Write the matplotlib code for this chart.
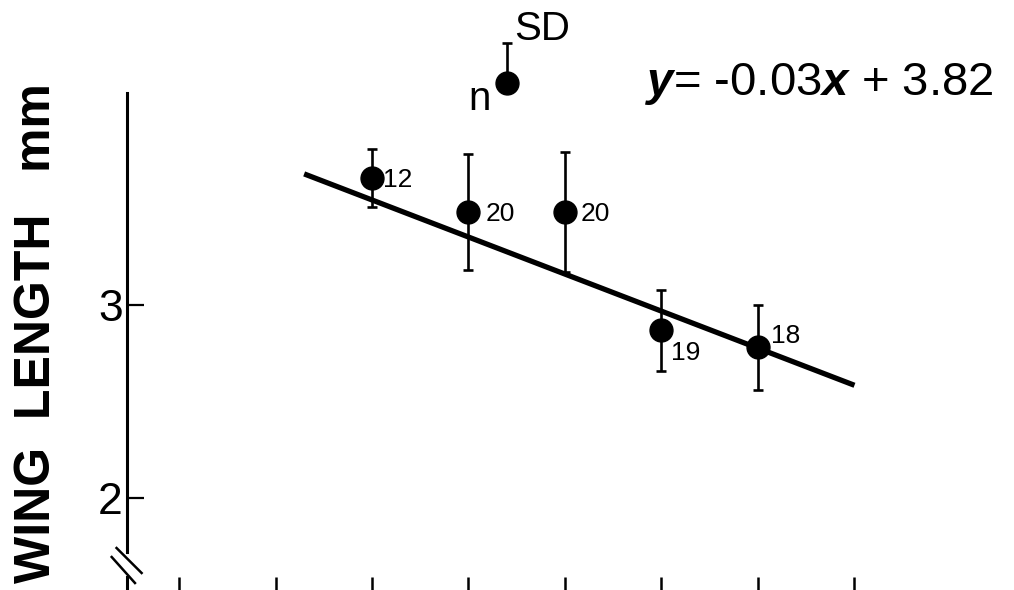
import numpy as np
import matplotlib
matplotlib.use('Agg')
import matplotlib.pyplot as plt

plt.rcParams['font.family'] = ['Liberation Sans', 'DejaVu Sans']
plt.rcParams['mathtext.fontset'] = 'custom'
plt.rcParams['mathtext.rm'] = 'Liberation Sans'
plt.rcParams['mathtext.bfit'] = 'Liberation Sans:italic:bold'

# sites along the gradient and mean wing length (mm) with SD
x_ticks = [-3.6, 2.8, 9.2, 15.6, 22.0, 28.4, 34.8, 41.2]
site_x = [9.2, 15.6, 22.0, 28.4, 34.8]
wing_mean = [3.66, 3.48, 3.48, 2.87, 2.78]
wing_sd = [0.15, 0.30, 0.31, 0.21, 0.22]
n_obs = [12, 20, 20, 19, 18]
# regression y = slope*x + intercept
slope = -0.03
intercept = 3.82
fit_x = [4.7, 41.2]

W, H = 1014, 590
fig = plt.figure(figsize=(W/100, H/100), dpi=100)
ax = fig.add_axes([127/W, 13/H, 773/W, 484/H])
ax.set_xlim(-7.05, 44.22)
ax.set_ylim(1.591, 4.098)

# fitted line
fx = np.array(fit_x)
ax.plot(fx, slope*fx + intercept, color='black', lw=3.8, solid_capstyle='butt', zorder=2)

# means +- SD
ax.errorbar(site_x, wing_mean, yerr=wing_sd, fmt='o', color='black', ms=16.5,
            elinewidth=1.9, capsize=3.5, capthick=1.9, zorder=3)

offsets = [(8, -1.5), (12, -1.5), (11, -1.5), (7, -16.5), (9.5, 8.6)]
for xi, yi, n, off in zip(site_x, wing_mean, n_obs, offsets):
    ax.annotate(str(n), (xi, yi), xytext=off, textcoords='offset points',
                ha='left', va='center', fontsize=19)

# axes: left spine with a break, bare ticks along the bottom
for s in ['top', 'right', 'bottom']:
    ax.spines[s].set_visible(False)
ax.spines['left'].set_linewidth(2.2)
ax.spines['left'].set_bounds(1.72, 4.098)
ax.plot([0, 0], [0.0, -0.04], transform=ax.transAxes, color='black', lw=2.2, clip_on=False)
ax.plot([-0.0135, 0.0189], [0.0599, 0.0083], transform=ax.transAxes, color='black', lw=1.8, clip_on=False)
ax.plot([-0.0198, 0.0103], [0.0413, -0.0124], transform=ax.transAxes, color='black', lw=1.8, clip_on=False)

ax.set_yticks([2, 3])
ax.set_yticklabels(['2', '3'], fontsize=32)
ax.tick_params(axis='y', direction='in', length=12, width=1.6, pad=3)
ax.set_xticks(x_ticks)
ax.set_xticklabels([])
ax.tick_params(axis='x', direction='out', length=12, width=1.8)

fig.text(37/W, 1 - 333/H, 'WING  LENGTH   mm', rotation=90, ha='center', va='center',
         fontsize=36, fontweight='bold')

# key: n and SD
key_x, key_y, key_sd = 18.17, 4.15, 0.207
ax.errorbar([key_x], [key_y], yerr=[[0], [key_sd]], fmt='o', color='black', ms=16.5,
            elinewidth=1.9, capsize=3.5, capthick=1.9, clip_on=False)
fig.text(491/W, 1 - 110/H, 'n', ha='right', va='baseline', fontsize=29)
fig.text(514/W, 1 - 40/H, 'SD', ha='left', va='baseline', fontsize=29)

fig.text(645/W, 1 - 95/H, r'$\mathbfit{y}$= -0.03$\mathbfit{x}$ + 3.82', ha='left',
         va='baseline', fontsize=34)

fig.savefig('out.png', dpi=100)
